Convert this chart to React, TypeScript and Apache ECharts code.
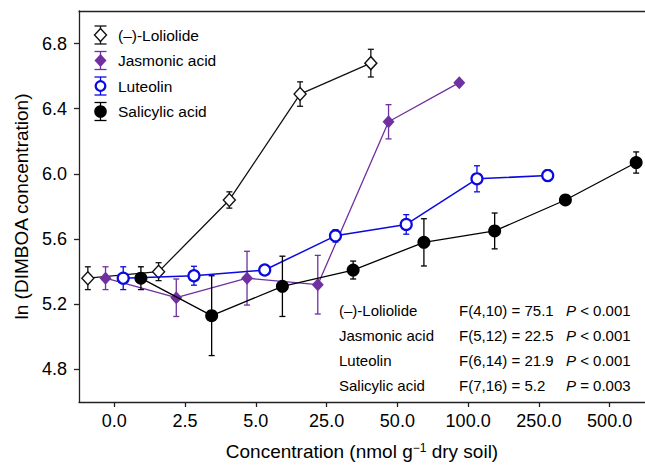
import React, { useEffect, useRef } from "react";
import * as echarts from "echarts";

const FONT = "'Liberation Sans', Arial, Helvetica, sans-serif";

// Dose tick labels (nmol g-1 dry soil), one per dose level index
const doseLabels = ["0.0", "2.5", "5.0", "25.0", "50.0", "100.0", "250.0", "500.0"];
const doseLevels = [0, 1, 2, 3, 4, 5, 6, 7];
const yTicks = [4.8, 5.2, 5.6, 6.0, 6.4, 6.8];

// Series names
const seriesNames = ["(\u2013)-Loliolide", "Jasmonic acid", "Luteolin", "Salicylic acid"];

// Means (ln DIMBOA concentration) and standard errors per dose level
const loliolideMean = [5.36, 5.40, 5.84, 6.49, 6.68];
const loliolideErr = [0.07, 0.055, 0.05, 0.075, 0.085];

const jasmonicMean = [5.36, 5.24, 5.36, 5.32, 6.32, 6.56];
const jasmonicErr = [0.07, 0.115, 0.165, 0.18, 0.105, 0.01];

const luteolinMean = [5.36, 5.375, 5.41, 5.62, 5.69, 5.97, 5.99];
const luteolinErr = [0.07, 0.058, 0.015, 0.038, 0.06, 0.08, 0.035];

const salicylicMean = [5.36, 5.13, 5.31, 5.41, 5.58, 5.65, 5.84, 6.07];
const salicylicErr = [0.07, 0.245, 0.185, 0.055, 0.145, 0.11, 0.015, 0.065];

// ANOVA annotation
const statNames = ["(\u2013)-Loliolide", "Jasmonic acid", "Luteolin", "Salicylic acid"];
const statF = ["F(4,10) = 75.1", "F(5,12) = 22.5", "F(6,14) = 21.9", "F(7,16) = 5.2"];
const statP = ["< 0.001", "< 0.001", "< 0.001", "= 0.003"];

// Styling (not data)
const dodge = [-0.375, -0.125, 0.125, 0.375];
const colors = ["#111111", "#7030a0", "#0a0ae0", "#000000"];
const symbols = ["diamond", "diamond", "circle", "circle"];
const hollow = [true, false, true, false];
const symbolSizes: any[] = [[12, 13], [12, 13], 11, 13];

export default function App() {
  const ref = useRef<HTMLDivElement>(null);
  useEffect(() => {
    if (!ref.current) return;
    const chart = echarts.init(ref.current, null, { renderer: "svg" });

    const means = [loliolideMean, jasmonicMean, luteolinMean, salicylicMean];
    const errs = [loliolideErr, jasmonicErr, luteolinErr, salicylicErr];

    const series: any[] = [];
    means.forEach((m, s) => {
      const color = colors[s];
      const pts = m.map((v, i) => [doseLevels[i] + dodge[s], v]);
      series.push({
        type: "custom",
        name: seriesNames[s] + " SE",
        silent: true,
        z: 2 + s * 2,
        data: m.map((v, i) => [doseLevels[i] + dodge[s], v - errs[s][i], v + errs[s][i]]),
        encode: { x: 0, y: [1, 2] },
        renderItem: (params: any, api: any) => {
          const x = api.value(0);
          const top = api.coord([x, api.value(2)]);
          const bot = api.coord([x, api.value(1)]);
          const w = 3;
          const st = { stroke: color, lineWidth: 1.3 };
          return {
            type: "group",
            children: [
              { type: "line", shape: { x1: top[0], y1: top[1], x2: bot[0], y2: bot[1] }, style: st },
              { type: "line", shape: { x1: top[0] - w, y1: top[1], x2: top[0] + w, y2: top[1] }, style: st },
              { type: "line", shape: { x1: bot[0] - w, y1: bot[1], x2: bot[0] + w, y2: bot[1] }, style: st },
            ],
          };
        },
      });
      series.push({
        type: "line",
        name: seriesNames[s],
        z: 3 + s * 2,
        data: pts,
        symbol: symbols[s],
        symbolSize: symbolSizes[s],
        showSymbol: true,
        lineStyle: { color, width: s === 2 ? 1.5 : 1.3 },
        itemStyle: hollow[s]
          ? { color: "#ffffff", borderColor: color, borderWidth: s === 2 ? 2.2 : 1.4 }
          : { color, borderWidth: 0 },
      });
    });

    const graphics: any[] = [];
    // Legend
    const legX = 100.5;
    seriesNames.forEach((name, i) => {
      const cy = 35 + i * 25.5;
      const color = colors[i];
      const st = { stroke: color, lineWidth: 1.3 };
      graphics.push({ type: "line", shape: { x1: legX, y1: cy - 9, x2: legX, y2: cy + 9 }, style: st, z: 10 });
      graphics.push({ type: "line", shape: { x1: legX - 6, y1: cy - 9, x2: legX + 6, y2: cy - 9 }, style: st, z: 10 });
      graphics.push({ type: "line", shape: { x1: legX - 6, y1: cy + 9, x2: legX + 6, y2: cy + 9 }, style: st, z: 10 });
      const fill = hollow[i] ? "#ffffff" : color;
      if (symbols[i] === "diamond") {
        graphics.push({
          type: "polygon",
          shape: { points: [[legX, cy - 6.5], [legX + 6, cy], [legX, cy + 6.5], [legX - 6, cy]] },
          style: { fill, stroke: hollow[i] ? color : null, lineWidth: 1.4 },
          z: 11,
        });
      } else {
        graphics.push({
          type: "circle",
          shape: { cx: legX, cy, r: hollow[i] ? 4.8 : 6.3 },
          style: { fill, stroke: hollow[i] ? color : null, lineWidth: 2.2 },
          z: 11,
        });
      }
      graphics.push({
        type: "text",
        x: 118,
        y: cy,
        style: { text: name, font: `15.5px ${FONT}`, fill: "#000", verticalAlign: "middle", textAlign: "left" },
        z: 11,
      });
    });

    // Statistics annotation
    statNames.forEach((name, i) => {
      const cy = 310 + i * 25;
      const base = { fill: "#000", verticalAlign: "middle", textAlign: "left", fontSize: 15, fontFamily: FONT };
      graphics.push({ type: "text", x: 339, y: cy, style: { ...base, text: name }, z: 11 });
      graphics.push({ type: "text", x: 459, y: cy, style: { ...base, text: statF[i] }, z: 11 });
      graphics.push({
        type: "text",
        x: 566,
        y: cy,
        style: {
          ...base,
          text: `{i|P} ${statP[i]}`,
          rich: { i: { fontStyle: "italic", fontSize: 15, fontFamily: FONT, fill: "#000" } },
        },
        z: 11,
      });
    });

    const axisLineStyle = { color: "#222", width: 1.3 };

    chart.setOption({
      animation: false,
      backgroundColor: "#ffffff",
      textStyle: { fontFamily: FONT },
      grid: { left: 79, top: 11, width: 568.3, height: 393, containLabel: false },
      xAxis: [
        {
          type: "value",
          min: -0.5,
          max: 7.5,
          position: "bottom",
          axisLine: { show: true, onZero: false, lineStyle: axisLineStyle },
          axisTick: { show: true, length: 5, customValues: doseLevels, lineStyle: axisLineStyle },
          axisLabel: {
            customValues: doseLevels,
            formatter: (v: number) => doseLabels[Math.round(v)] ?? "",
            fontSize: 18,
            color: "#000",
            margin: 10,
            fontFamily: FONT,
          },
          splitLine: { show: false },
          name: "Concentration (nmol g{sup|\u22121} dry soil)",
          nameLocation: "middle",
          nameGap: 40,
          nameTextStyle: {
            fontSize: 19,
            color: "#000",
            fontFamily: FONT,
            rich: { sup: { fontSize: 12, verticalAlign: "top", color: "#000", fontFamily: FONT } },
          },
        },
        {
          type: "value",
          min: -0.5,
          max: 7.5,
          position: "top",
          axisLine: { show: true, onZero: false, lineStyle: axisLineStyle },
          axisTick: { show: false },
          axisLabel: { show: false },
          splitLine: { show: false },
        },
      ],
      yAxis: {
        type: "value",
        min: 4.6,
        max: 7.0,
        position: "left",
        axisLine: { show: true, onZero: false, lineStyle: axisLineStyle },
        axisTick: { show: true, length: 5, customValues: yTicks, lineStyle: axisLineStyle },
        axisLabel: {
          customValues: yTicks,
          formatter: (v: number) => v.toFixed(1),
          fontSize: 18,
          color: "#000",
          margin: 12,
          fontFamily: FONT,
        },
        splitLine: { show: false },
        name: "ln (DIMBOA concentration)",
        nameLocation: "middle",
        nameGap: 48,
        nameTextStyle: { fontSize: 19, color: "#000", fontFamily: FONT },
      },
      graphic: graphics,
      series,
    });

    return () => chart.dispose();
  }, []);

  return (
    <div
      ref={ref}
      style={{ position: "absolute", left: 0, top: 0, width: 645, height: 466, background: "#fff" }}
    />
  );
}
